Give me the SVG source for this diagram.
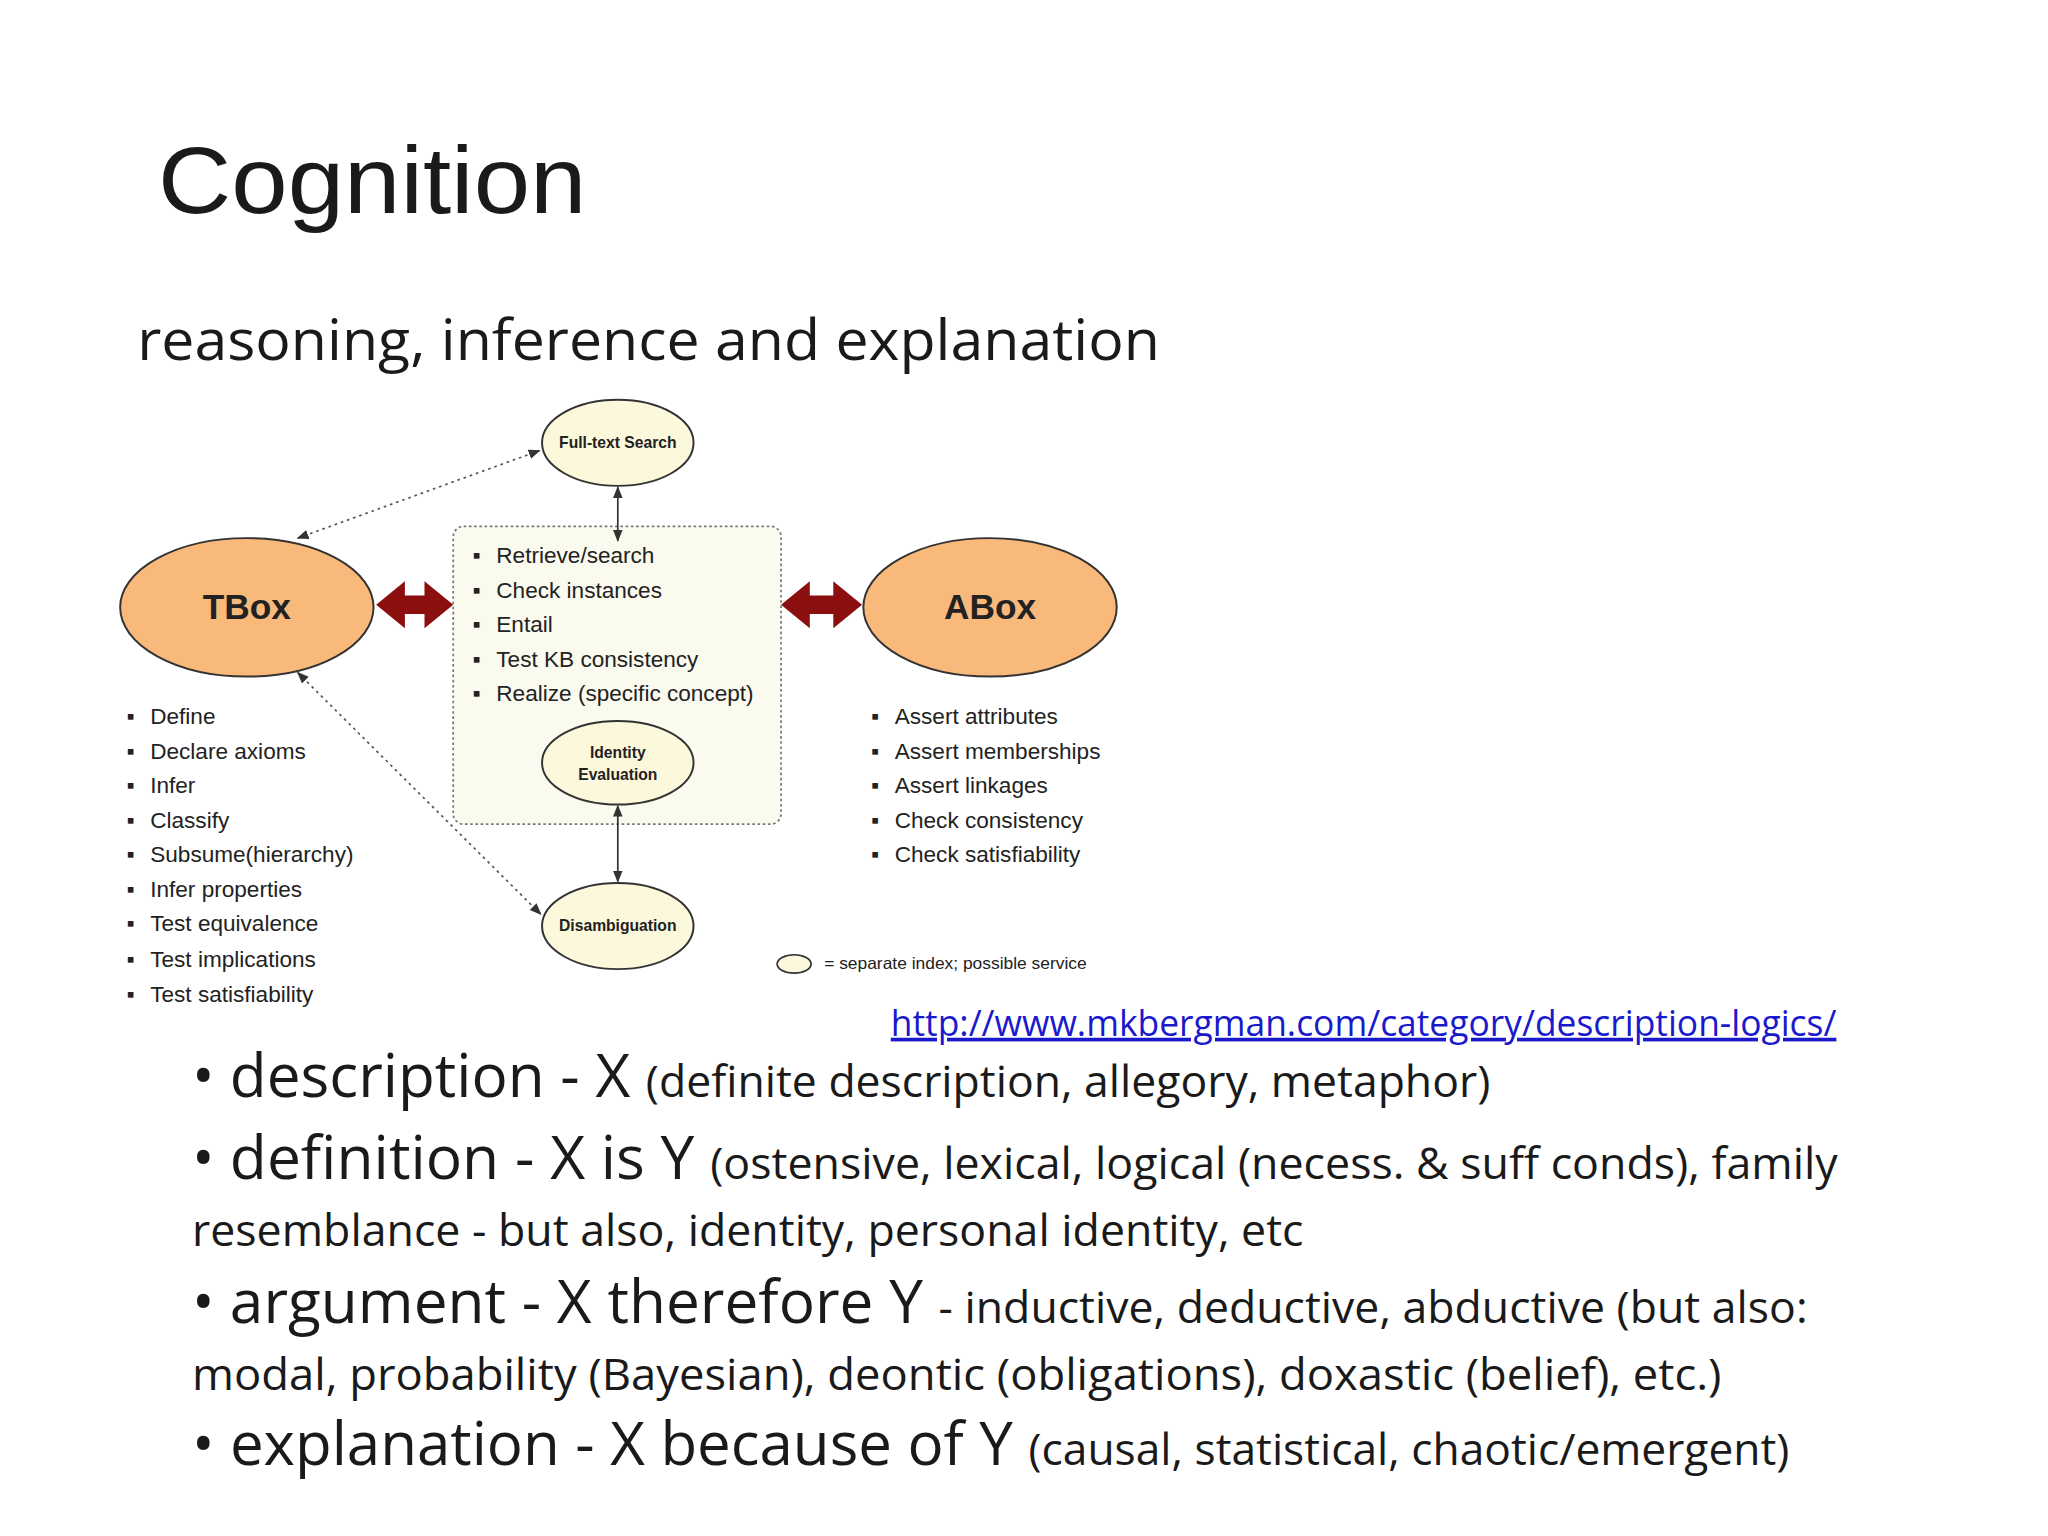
<svg xmlns="http://www.w3.org/2000/svg" width="2048" height="1536" viewBox="0 0 2048 1536">
<defs>
<style>
.b{font-family:"Open Sans","Liberation Sans",sans-serif;fill:#1a1a1a}
.s{font-family:"Liberation Sans",Arial,sans-serif;fill:#222;font-size:17.3px}
.e{fill:#fcf8dc;stroke:#333;stroke-width:1.5}
.o{fill:#f8b97b;stroke:#333;stroke-width:1.5}
.n{font-family:"Liberation Sans",Arial,sans-serif;font-weight:bold;fill:#222;text-anchor:middle}
.dot{stroke:#555;stroke-width:1.3;stroke-dasharray:2 3;fill:none}
</style>
<marker id="ah" viewBox="0 0 10 10" refX="9" refY="5" markerWidth="7" markerHeight="7" orient="auto-start-reverse"><path d="M0,1 L10,5 L0,9 z" fill="#333"/></marker>
</defs>
<rect width="2048" height="1536" fill="#fff"/>
<g transform="scale(1.30612)">
<text x="121" y="163" font-family="Liberation Sans,Arial,sans-serif" font-size="72" fill="#1a1a1a" textLength="328" lengthAdjust="spacingAndGlyphs">Cognition</text>
<text class="b" x="105" y="276" font-size="44" textLength="783" lengthAdjust="spacingAndGlyphs">reasoning, inference and explanation</text>

<g id="box">
<rect x="347" y="403" width="251" height="228" rx="8" fill="#fbfaef" stroke="#777" stroke-width="1.3" stroke-dasharray="2 2"/>
<g class="s">
<text x="362" y="431">▪</text><text x="380" y="431">Retrieve/search</text>
<text x="362" y="458">▪</text><text x="380" y="458">Check instances</text>
<text x="362" y="484">▪</text><text x="380" y="484">Entail</text>
<text x="362" y="511">▪</text><text x="380" y="511">Test KB consistency</text>
<text x="362" y="537">▪</text><text x="380" y="537">Realize (specific concept)</text>
</g>
</g>
<g id="fulltext"><ellipse class="e" cx="473" cy="339" rx="58" ry="33"/><text class="n" x="473" y="343" font-size="12">Full-text Search</text></g>
<g id="identity"><ellipse class="e" cx="473" cy="584" rx="58" ry="32"/><text class="n" x="473" y="580" font-size="12">Identity</text><text class="n" x="473" y="597" font-size="12">Evaluation</text></g>
<g id="disamb"><ellipse class="e" cx="473" cy="709" rx="58" ry="33"/><text class="n" x="473" y="713" font-size="12">Disambiguation</text></g>
<g id="tbox"><ellipse class="o" cx="189" cy="465" rx="97" ry="53"/><text class="n" x="189" y="474" font-size="27">TBox</text>
<g class="s">
<text x="97" y="554">▪</text><text x="115" y="554">Define</text>
<text x="97" y="581">▪</text><text x="115" y="581">Declare axioms</text>
<text x="97" y="607">▪</text><text x="115" y="607">Infer</text>
<text x="97" y="634">▪</text><text x="115" y="634">Classify</text>
<text x="97" y="660">▪</text><text x="115" y="660">Subsume(hierarchy)</text>
<text x="97" y="687">▪</text><text x="115" y="687">Infer properties</text>
<text x="97" y="713">▪</text><text x="115" y="713">Test equivalence</text>
<text x="97" y="740">▪</text><text x="115" y="740">Test implications</text>
<text x="97" y="767">▪</text><text x="115" y="767">Test satisfiability</text>
</g></g>
<g id="abox"><ellipse class="o" cx="758" cy="465" rx="97" ry="53"/><text class="n" x="758" y="474" font-size="27">ABox</text>
<g class="s">
<text x="667" y="554">▪</text><text x="685" y="554">Assert attributes</text>
<text x="667" y="581">▪</text><text x="685" y="581">Assert memberships</text>
<text x="667" y="607">▪</text><text x="685" y="607">Assert linkages</text>
<text x="667" y="634">▪</text><text x="685" y="634">Check consistency</text>
<text x="667" y="660">▪</text><text x="685" y="660">Check satisfiability</text>
</g></g>
<g id="legend"><ellipse cx="608" cy="738" rx="13" ry="7" fill="#fcf8dc" stroke="#333" stroke-width="1.3"/><text x="631" y="742" font-family="Liberation Sans,Arial,sans-serif" font-size="12" fill="#222" textLength="201" lengthAdjust="spacingAndGlyphs">= separate index; possible service</text></g>

<g id="connectors">
<line class="dot" x1="228" y1="412" x2="413" y2="345" marker-start="url(#ah)" marker-end="url(#ah)"/>
<line class="dot" x1="228" y1="515" x2="414" y2="700" marker-start="url(#ah)" marker-end="url(#ah)"/>
<line x1="473" y1="373" x2="473" y2="414" stroke="#333" stroke-width="1.3" marker-start="url(#ah)" marker-end="url(#ah)"/>
<line x1="473" y1="617" x2="473" y2="675" stroke="#333" stroke-width="1.3" marker-start="url(#ah)" marker-end="url(#ah)"/>
<path d="M288,463 L310,445 L310,456 L325,456 L325,445 L347,463 L325,481 L325,470 L310,470 L310,481 Z" fill="#8b0f0f"/>
<path d="M598,463 L620,445 L620,456 L638,456 L638,445 L660,463 L638,481 L638,470 L620,470 L620,481 Z" fill="#8b0f0f"/>
</g>

<text class="b" x="682" y="793" font-size="28" style="fill:#1a1acc" text-decoration="underline" textLength="724" lengthAdjust="spacingAndGlyphs">http://www.mkbergman.com/category/description-logics/</text>

<g class="b">
<text x="147" y="840" font-size="46">•</text>
<text x="176" y="840" font-size="46" textLength="965" lengthAdjust="spacingAndGlyphs">description - X <tspan font-size="34">(definite description, allegory, metaphor)</tspan></text>
<text x="147" y="903" font-size="46">•</text>
<text x="176" y="903" font-size="46" textLength="1231" lengthAdjust="spacingAndGlyphs">definition - X is Y <tspan font-size="34">(ostensive, lexical, logical (necess. &amp; suff conds), family</tspan></text>
<text x="147" y="954" font-size="34" textLength="851" lengthAdjust="spacingAndGlyphs">resemblance - but also, identity, personal identity, etc</text>
<text x="147" y="1013" font-size="46">•</text>
<text x="176" y="1013" font-size="46" textLength="1208" lengthAdjust="spacingAndGlyphs">argument - X therefore Y <tspan font-size="34">- inductive, deductive, abductive (but also:</tspan></text>
<text x="147" y="1064" font-size="34" textLength="1171" lengthAdjust="spacingAndGlyphs">modal, probability (Bayesian), deontic (obligations), doxastic (belief), etc.)</text>
<text x="147" y="1122" font-size="46">•</text>
<text x="176" y="1122" font-size="46" textLength="1194" lengthAdjust="spacingAndGlyphs">explanation - X because of Y <tspan font-size="34">(causal, statistical, chaotic/emergent)</tspan></text>
</g>
</g>
</svg>
